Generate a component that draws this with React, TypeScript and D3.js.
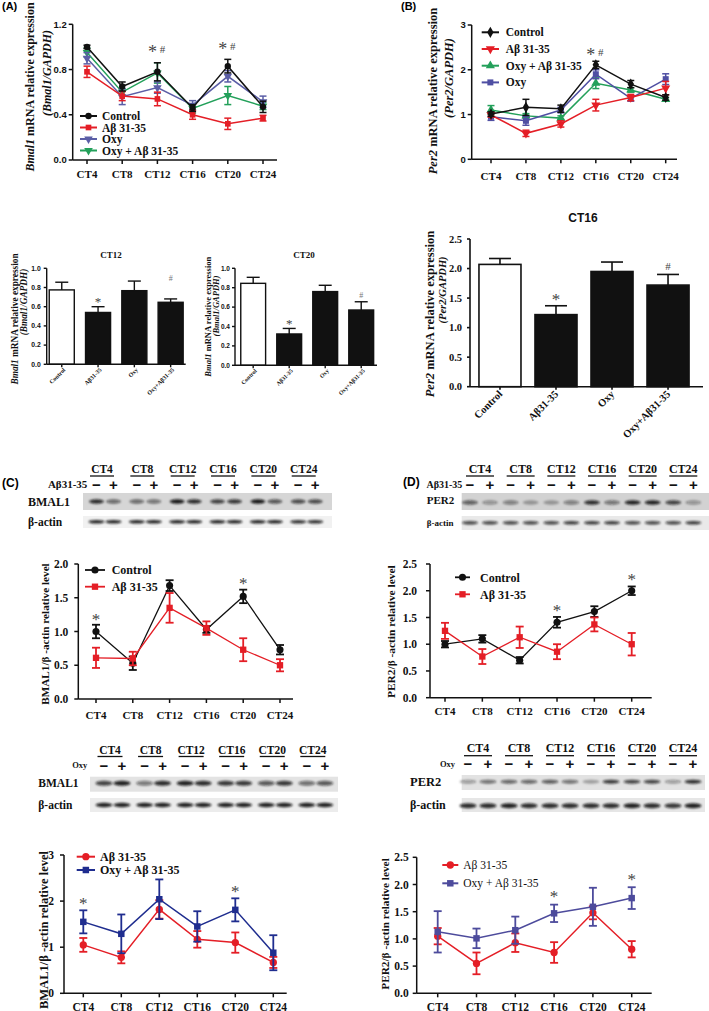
import React from "react";
import * as d3 from "d3";

const SERIF = "'Liberation Serif','Times New Roman',serif";
const SANS = "'Liberation Sans',Arial,sans-serif";

const BLACK = "#111111";
const RED = "#e41e26";
const PURPLE_A = "#5b5ea6";
const GREEN = "#23a05a";
const PURPLE_B = "#4f4fa3";
const NAVY = "#1f2d8f";
const SLATE = "#4d4b9c";

const CT = ["CT4", "CT8", "CT12", "CT16", "CT20", "CT24"];
const GROUPS = ["Control", "Aβ31-35", "Oxy", "Oxy+Aβ31-35"];

// (A) Bmal1 mRNA
const aControl = [1.0, 0.65, 0.78, 0.46, 0.83, 0.47];
const aControlErr = [0.015, 0.04, 0.08, 0.03, 0.06, 0.05];
const aAbeta = [0.78, 0.565, 0.54, 0.4, 0.32, 0.37];
const aAbetaErr = [0.05, 0.04, 0.06, 0.04, 0.05, 0.025];
const aOxy = [0.9, 0.56, 0.64, 0.485, 0.74, 0.515];
const aOxyErr = [0.05, 0.07, 0.05, 0.04, 0.05, 0.05];
const aOxyAbeta = [0.95, 0.6, 0.77, 0.456, 0.57, 0.476];
const aOxyAbetaErr = [0.04, 0.03, 0.09, 0.04, 0.08, 0.03];
const aYTicks = [0, 0.4, 0.8, 1.2];

// (B) Per2 mRNA
const bControl = [1.01, 1.16, 1.13, 2.11, 1.68, 1.38];
const bControlErr = [0.05, 0.18, 0.08, 0.08, 0.08, 0.06];
const bAbeta = [0.99, 0.58, 0.79, 1.21, 1.38, 1.59];
const bAbetaErr = [0.05, 0.07, 0.07, 0.13, 0.07, 0.15];
const bOxyAbeta = [1.1, 0.97, 0.92, 1.7, 1.55, 1.34];
const bOxyAbetaErr = [0.1, 0.05, 0.05, 0.12, 0.05, 0.04];
const bOxy = [0.95, 0.86, 1.1, 1.9, 1.36, 1.79];
const bOxyErr = [0.08, 0.1, 0.06, 0.1, 0.06, 0.12];
const bYTicks = [0, 1, 2, 3];

// Bar charts
const ct12Bars = [0.775, 0.54, 0.767, 0.646];
const ct12Err = [0.08, 0.06, 0.1, 0.035];
const ct20Bars = [0.845, 0.323, 0.76, 0.57];
const ct20Err = [0.062, 0.057, 0.065, 0.085];
const ct16Bars = [2.07, 1.22, 1.95, 1.72];
const ct16Err = [0.1, 0.15, 0.16, 0.18];
const barTicks1 = [0, 0.2, 0.4, 0.6, 0.8, 1.0];
const barTicks25 = [0, 0.5, 1.0, 1.5, 2.0, 2.5];

// (C) BMAL1 protein
const cControl = [1.0, 0.53, 1.68, 1.03, 1.52, 0.73];
const cControlErr = [0.1, 0.1, 0.08, 0.05, 0.1, 0.07];
const cAbeta = [0.61, 0.6, 1.35, 1.05, 0.73, 0.5];
const cAbetaErr = [0.15, 0.1, 0.22, 0.1, 0.17, 0.09];
const cYTicks = [0, 0.5, 1.0, 1.5, 2.0];

// (D) PER2 protein
const dControl = [1.0, 1.1, 0.7, 1.41, 1.61, 2.0];
const dControlErr = [0.06, 0.07, 0.06, 0.1, 0.1, 0.08];
const dAbeta = [1.25, 0.77, 1.13, 0.86, 1.37, 1.0];
const dAbetaErr = [0.15, 0.14, 0.2, 0.14, 0.13, 0.21];
const dYTicks = [0, 0.5, 1.0, 1.5, 2.0, 2.5];

// (C) lower: Aβ vs Oxy+Aβ
const c2Abeta = [1.05, 0.78, 1.82, 1.17, 1.1, 0.67];
const c2AbetaErr = [0.15, 0.13, 0.2, 0.18, 0.22, 0.12];
const c2OxyAbeta = [1.55, 1.29, 2.04, 1.45, 1.81, 0.88];
const c2OxyAbetaErr = [0.25, 0.42, 0.43, 0.33, 0.25, 0.38];
const c2YTicks = [0, 1, 2, 3];

// (D) lower
const d2Abeta = [1.05, 0.55, 0.93, 0.75, 1.48, 0.81];
const d2AbetaErr = [0.15, 0.2, 0.17, 0.19, 0.12, 0.15];
const d2OxyAbeta = [1.13, 1.01, 1.16, 1.47, 1.59, 1.75];
const d2OxyAbetaErr = [0.38, 0.18, 0.25, 0.16, 0.35, 0.2];
const d2YTicks = [0, 0.5, 1.0, 1.5, 2.0, 2.5];

// Western blot band intensities (lanes: CT4 -,+, CT8 -,+ ...)
const blotC1Bmal = [0.85, 0.55, 0.55, 0.5, 0.95, 0.85, 0.75, 0.8, 0.95, 0.65, 0.7, 0.7];
const blotC1Actin = [0.9, 0.9, 0.9, 0.9, 0.9, 0.9, 0.9, 0.9, 0.9, 0.9, 0.85, 0.85];
const blotD1Per = [0.6, 0.35, 0.45, 0.3, 0.3, 0.45, 0.85, 0.5, 0.9, 0.9, 0.75, 0.35];
const blotD1Actin = [0.75, 0.75, 0.75, 0.75, 0.75, 0.8, 0.8, 0.8, 0.75, 0.75, 0.75, 0.8];
const blotC2Bmal = [0.75, 0.9, 0.5, 0.85, 0.9, 0.85, 0.8, 0.8, 0.65, 0.8, 0.55, 0.65];
const blotC2Actin = [0.9, 0.9, 0.9, 0.9, 0.9, 0.9, 0.9, 0.9, 0.9, 0.9, 0.9, 0.9];
const blotD2Per = [0.35, 0.55, 0.6, 0.6, 0.65, 0.55, 0.3, 0.8, 0.75, 0.75, 0.35, 0.85];
const blotD2Actin = [0.85, 0.85, 0.9, 0.85, 0.85, 0.85, 0.85, 0.85, 0.9, 0.85, 0.8, 0.9];

type Sym = "circle" | "square" | "triDown" | "triUp" | "diamond";

function symPath(sym: Sym, size: number) {
  const t =
    sym === "circle" ? d3.symbolCircle :
    sym === "square" ? d3.symbolSquare :
    sym === "diamond" ? d3.symbolDiamond : d3.symbolTriangle;
  return d3.symbol().type(t).size(size)() as string;
}

function Marker({ sym, x, y, size, color }: any) {
  const rot = sym === "triDown" ? 180 : 0;
  return <path d={symPath(sym, size)} transform={`translate(${x},${y}) rotate(${rot})`} fill={color} />;
}

function Mark({ x, cy, text, starSize, hashSize, gap = 5, color = "#444" }: any) {
  const items: any[] = [];
  if (text === "*#") {
    items.push({ ch: "*", x: x - gap, s: starSize });
    items.push({ ch: "#", x: x + gap, s: hashSize });
  } else if (text === "*") items.push({ ch: "*", x, s: starSize });
  else items.push({ ch: "#", x, s: hashSize });
  return (
    <g>
      {items.map((it, i) => (
        <text key={i} x={it.x} y={cy + (it.ch === "*" ? 0.46 : 0.34) * it.s} textAnchor="middle"
          fontSize={it.s} fontFamily={SERIF} fill={color}>{it.ch}</text>
      ))}
    </g>
  );
}

function RotText({ x, cy, size, children, weight = "bold" }: any) {
  return (
    <text transform={`translate(${x},${cy}) rotate(-90)`} textAnchor="middle" dy="0.33em"
      fontSize={size} fontWeight={weight} fontFamily={SERIF} fill="#111">{children}</text>
  );
}

function LineChart(p: any) {
  const x = d3.scalePoint<string>().domain(CT).range([p.firstX, p.lastX]);
  const y = d3.scaleLinear().domain([0, p.yMax]).range([p.zeroY, p.topY]);
  const fmt = d3.format(p.fmt);
  const line = d3.line<number>().x((_, i) => x(CT[i]) as number).y((d) => y(d));
  const order = p.drawOrder ? p.drawOrder.map((i: number) => p.series[i]) : p.series;
  const aw = p.axisW ?? 1.5;
  return (
    <g>
      <line x1={p.axisX} x2={p.axisX} y1={p.topY} y2={p.zeroY} stroke="#111" strokeWidth={aw} />
      <line x1={p.axisX} x2={p.axisEndX} y1={p.zeroY} y2={p.zeroY} stroke="#111" strokeWidth={aw} />
      {p.yTicks.map((t: number) => (
        <g key={t}>
          <line x1={p.axisX - 4} x2={p.axisX} y1={y(t)} y2={y(t)} stroke="#111" strokeWidth={aw} />
          <text x={p.axisX - p.gap} y={y(t)} dy="0.35em" textAnchor="end" fontSize={p.yTickSize}
            fontWeight="bold" fontFamily={p.yTickFont} fill="#111">{fmt(t)}</text>
        </g>
      ))}
      {CT.map((c) => (
        <g key={c}>
          <line x1={x(c)} x2={x(c)} y1={p.zeroY} y2={p.zeroY + 4} stroke="#111" strokeWidth={aw} />
          <text x={x(c)} y={p.ctBase} textAnchor="middle" fontSize={p.ctSize} fontWeight="bold"
            fontFamily={SERIF} fill="#111">{c}</text>
        </g>
      ))}
      {order.map((s: any, si: number) => (
        <g key={si}>
          <path d={line(s.values) as string} fill="none" stroke={s.color} strokeWidth={p.lineW} />
          {s.values.map((v: number, i: number) => {
            const cx = x(CT[i]) as number;
            const e = s.errs[i];
            const cw = p.capW / 2;
            return (
              <g key={i} stroke={s.color} strokeWidth={p.errW}>
                <line x1={cx} x2={cx} y1={y(v - e)} y2={y(v + e)} />
                <line x1={cx - cw} x2={cx + cw} y1={y(v + e)} y2={y(v + e)} />
                <line x1={cx - cw} x2={cx + cw} y1={y(v - e)} y2={y(v - e)} />
              </g>
            );
          })}
          {s.values.map((v: number, i: number) => (
            <Marker key={"m" + i} sym={s.sym} x={x(CT[i])} y={y(v)} size={p.markerSize} color={s.color} />
          ))}
        </g>
      ))}
      {p.marks.map((m: any, i: number) => {
        const idx = CT.indexOf(m.ct);
        const top = d3.max(p.series, (s: any) => s.values[idx] + s.errs[idx]) as number;
        return (
          <Mark key={i} x={x(m.ct)} cy={y(top) - p.markOff} text={m.text} starSize={p.starSize}
            hashSize={p.hashSize} gap={p.markGap} />
        );
      })}
      {p.series.map((s: any, i: number) => {
        const L = p.legend;
        const cy = L.y0 + i * L.dy;
        return (
          <g key={"lg" + i}>
            <line x1={L.x0} x2={L.x1} y1={cy} y2={cy} stroke={s.color} strokeWidth={p.lineW + 0.5} />
            <Marker sym={s.sym} x={(L.x0 + L.x1) / 2} y={cy} size={p.markerSize} color={s.color} />
            <text x={L.tx} y={cy} dy="0.35em" fontSize={L.size} fontWeight={L.weight}
              fontFamily={SERIF} fill="#111">{s.label}</text>
          </g>
        );
      })}
    </g>
  );
}

function BarChart(p: any) {
  const x = d3.scaleBand<string>().domain(GROUPS).range([p.r0, p.r1])
    .paddingInner(p.pi).paddingOuter(p.po);
  const y = d3.scaleLinear().domain([0, p.yMax]).range([p.zeroY, p.topY]);
  const fmt = d3.format(p.fmt);
  const bw = x.bandwidth();
  const aw = p.axisW;
  return (
    <g>
      {GROUPS.map((g, i) => {
        const x0 = x(g) as number;
        const v = p.values[i];
        const e = p.errs[i];
        const cx = x0 + bw / 2;
        return (
          <g key={g}>
            <line x1={cx} x2={cx} y1={y(v)} y2={y(v + e)} stroke="#111" strokeWidth={aw} />
            <line x1={cx - p.capW / 2} x2={cx + p.capW / 2} y1={y(v + e)} y2={y(v + e)} stroke="#111" strokeWidth={aw} />
            <rect x={x0} y={y(v)} width={bw} height={p.zeroY - y(v)} fill={i === 0 ? "#fff" : "#111"}
              stroke="#111" strokeWidth={aw} />
            <line x1={cx} x2={cx} y1={p.zeroY} y2={p.zeroY + 3} stroke="#111" strokeWidth={aw} />
            <text transform={`translate(${cx + p.lblDx},${p.zeroY + p.lblDy}) rotate(-45)`} textAnchor="end"
              fontSize={p.lblSize} fontWeight="bold" fontFamily={SERIF} fill="#111">{g}</text>
          </g>
        );
      })}
      <line x1={p.axisX} x2={p.axisX} y1={p.topY} y2={p.zeroY} stroke="#111" strokeWidth={aw} />
      <line x1={p.axisX} x2={p.axisEndX} y1={p.zeroY} y2={p.zeroY} stroke="#111" strokeWidth={aw} />
      {p.yTicks.map((t: number) => (
        <g key={t}>
          <line x1={p.axisX - 3} x2={p.axisX} y1={y(t)} y2={y(t)} stroke="#111" strokeWidth={aw} />
          <text x={p.axisX - p.gap} y={y(t)} dy="0.35em" textAnchor="end" fontSize={p.tickSize}
            fontWeight="bold" fontFamily={p.tickFont} fill="#111">{fmt(t)}</text>
        </g>
      ))}
      <text x={p.titleX} y={p.titleY} textAnchor="middle" fontSize={p.titleSize} fontWeight="bold"
        fontFamily={p.titleFont} fill="#111">{p.title}</text>
      {p.marks.map((m: any, i: number) => {
        const g = GROUPS[m.idx];
        const cx = (x(g) as number) + bw / 2;
        const top = p.values[m.idx] + p.errs[m.idx];
        return (
          <Mark key={i} x={cx} cy={y(top) - m.off} text={m.text} starSize={p.starSize}
            hashSize={p.hashSize} color={m.color ?? "#444"} />
        );
      })}
    </g>
  );
}

function Blot(p: any) {
  const g = d3.scalePoint<string>().domain(CT).range([p.first, p.last]);
  const lanes: number[] = [];
  CT.forEach((c) => {
    lanes.push((g(c) as number) - p.off);
    lanes.push((g(c) as number) + p.off);
  });
  return (
    <g>
      {CT.map((c) => (
        <g key={c}>
          <text x={(g(c) as number) + p.ctDx} y={p.ctY} textAnchor="middle" fontSize={p.ctSize}
            fontWeight="bold" fontFamily={SERIF} fill="#111">{c}</text>
          <line x1={(g(c) as number) + p.ctDx - p.ulW / 2} x2={(g(c) as number) + p.ctDx + p.ulW / 2}
            y1={p.ulY} y2={p.ulY} stroke="#111" strokeWidth={1.3} />
        </g>
      ))}
      {lanes.map((lx, i) => (
        <text key={i} x={lx} y={p.pmY} dy="0.35em" textAnchor="middle" fontSize={p.pmSize}
          fontWeight="bold" fontFamily={SANS} fill="#111">{i % 2 === 0 ? "−" : "+"}</text>
      ))}
      <text x={p.treatX} y={p.treatY} textAnchor="end" fontSize={p.treatSize} fontWeight="bold"
        fontFamily={SERIF} fill="#111">{p.treat}</text>
      {p.rows.map((r: any, ri: number) => (
        <g key={ri}>
          <text x={r.labelX} y={r.labelY} fontSize={r.labelSize} fontWeight="bold" fontFamily={SERIF}
            fill="#111">{r.label}</text>
          <rect x={r.x0} y={r.y} width={r.x1 - r.x0} height={r.h} fill={r.bg} />
          <g filter="url(#blur)">
            {lanes.map((lx, i) => (
              <ellipse key={i} cx={lx} cy={r.cy} rx={r.bw / 2} ry={r.bh / 2} fill="#111"
                opacity={r.vals[i]} />
            ))}
          </g>
        </g>
      ))}
    </g>
  );
}

const seriesA = [
  { label: "Control", values: aControl, errs: aControlErr, color: BLACK, sym: "circle" },
  { label: "Aβ 31-35", values: aAbeta, errs: aAbetaErr, color: RED, sym: "square" },
  { label: "Oxy", values: aOxy, errs: aOxyErr, color: PURPLE_A, sym: "triDown" },
  { label: "Oxy + Aβ 31-35", values: aOxyAbeta, errs: aOxyAbetaErr, color: GREEN, sym: "triDown" },
];
const seriesB = [
  { label: "Control", values: bControl, errs: bControlErr, color: BLACK, sym: "diamond" },
  { label: "Aβ 31-35", values: bAbeta, errs: bAbetaErr, color: RED, sym: "triDown" },
  { label: "Oxy + Aβ 31-35", values: bOxyAbeta, errs: bOxyAbetaErr, color: GREEN, sym: "triUp" },
  { label: "Oxy", values: bOxy, errs: bOxyErr, color: PURPLE_B, sym: "square" },
];
const seriesC = [
  { label: "Control", values: cControl, errs: cControlErr, color: BLACK, sym: "circle" },
  { label: "Aβ 31-35", values: cAbeta, errs: cAbetaErr, color: RED, sym: "square" },
];
const seriesD = [
  { label: "Control", values: dControl, errs: dControlErr, color: BLACK, sym: "circle" },
  { label: "Aβ 31-35", values: dAbeta, errs: dAbetaErr, color: RED, sym: "square" },
];
const seriesC2 = [
  { label: "Aβ 31-35", values: c2Abeta, errs: c2AbetaErr, color: RED, sym: "circle" },
  { label: "Oxy + Aβ 31-35", values: c2OxyAbeta, errs: c2OxyAbetaErr, color: NAVY, sym: "square" },
];
const seriesD2 = [
  { label: "Aβ 31-35", values: d2Abeta, errs: d2AbetaErr, color: RED, sym: "circle" },
  { label: "Oxy + Aβ 31-35", values: d2OxyAbeta, errs: d2OxyAbetaErr, color: SLATE, sym: "square" },
];

export default function App() {
  return (
    <svg width={709} height={1011} viewBox="0 0 709 1011"
      style={{ position: "absolute", left: 0, top: 0, background: "#fff" }}>
      <defs>
        <filter id="blur" x="-20%" y="-100%" width="140%" height="300%">
          <feGaussianBlur stdDeviation="0.9" />
        </filter>
      </defs>
      <rect width={709} height={1011} fill="#fff" />

      {/* Panel letters */}
      <text x={2} y={10} fontSize={11} fontWeight="bold" fontFamily={SANS}>(A)</text>
      <text x={401} y={10} fontSize={11} fontWeight="bold" fontFamily={SANS}>(B)</text>
      <text x={2} y={487} fontSize={12} fontWeight="bold" fontFamily={SANS}>(C)</text>
      <text x={403} y={486} fontSize={12} fontWeight="bold" fontFamily={SANS}>(D)</text>

      {/* (A) time course */}
      <LineChart axisX={72.7} axisEndX={277} firstX={87} lastX={263} zeroY={160} topY={24.3} yMax={1.2}
        yTicks={aYTicks} fmt=".1f" yTickFont={SANS} yTickSize={9.5} gap={6} ctSize={11} ctBase={178}
        series={seriesA} drawOrder={[3, 2, 1, 0]} lineW={1.5} errW={1.5} capW={7} markerSize={32}
        marks={[{ ct: "CT12", text: "*#" }, { ct: "CT20", text: "*#" }]} markOff={13} starSize={18}
        hashSize={11} markGap={5}
        legend={{ x0: 80, x1: 97, tx: 102, y0: 116, dy: 11.5, size: 11.5, weight: "bold" }} />
      <RotText x={30} cy={87} size={12}><tspan fontStyle="italic">Bmal1</tspan> mRNA relative expression</RotText>
      <RotText x={47} cy={73} size={12}><tspan fontStyle="italic">(Bmal1/GAPDH)</tspan></RotText>

      {/* (B) time course */}
      <LineChart axisX={471.7} axisEndX={677} firstX={491} lastX={665.7} zeroY={159.3} topY={25} yMax={3}
        yTicks={bYTicks} fmt="d" yTickFont={SANS} yTickSize={9.5} gap={6} ctSize={11} ctBase={180}
        series={seriesB} drawOrder={[2, 3, 1, 0]} lineW={1.5} errW={1.5} capW={7} markerSize={36}
        marks={[{ ct: "CT16", text: "*#" }]} markOff={9} starSize={18} hashSize={11} markGap={5}
        legend={{ x0: 481.7, x1: 499, tx: 505.7, y0: 32.3, dy: 16.7, size: 11.5, weight: "bold" }} />
      <RotText x={433} cy={91} size={12.5}><tspan fontStyle="italic">Per2</tspan> mRNA relative expression</RotText>
      <RotText x={449} cy={78} size={12.5}><tspan fontStyle="italic">(Per2/GAPDH)</tspan></RotText>

      {/* CT12 bars */}
      <BarChart axisX={46.7} axisEndX={185.7} r0={46.7} r1={185.7} pi={0.31} po={0.07} zeroY={364.3} topY={268.3}
        yMax={1} yTicks={barTicks1} fmt=".1f" tickFont={SANS} tickSize={6.8} gap={6} axisW={1.4}
        values={ct12Bars} errs={ct12Err} capW={13} lblSize={6} lblDx={4} lblDy={6}
        title="CT12" titleX={111} titleY={258} titleSize={9} titleFont={SERIF}
        marks={[{ idx: 1, text: "*", off: 6.7 }, { idx: 3, text: "#", off: 21, color: "#777" }]}
        starSize={13} hashSize={8} />
      <RotText x={15} cy={319} size={9.3}><tspan fontStyle="italic">Bmal1</tspan> mRNA relative expression</RotText>
      <RotText x={23.5} cy={302} size={9.3}><tspan fontStyle="italic">(Bmal1/GAPDH)</tspan></RotText>

      {/* CT20 bars */}
      <BarChart axisX={235} axisEndX={377} r0={235} r1={379.4} pi={0.31} po={0.16} zeroY={365.3} topY={268.3}
        yMax={1} yTicks={barTicks1} fmt=".1f" tickFont={SANS} tickSize={6.5} gap={5} axisW={1.4}
        values={ct20Bars} errs={ct20Err} capW={13} lblSize={5.8} lblDx={4} lblDy={6}
        title="CT20" titleX={304} titleY={258} titleSize={9} titleFont={SERIF}
        marks={[{ idx: 1, text: "*", off: 6.7 }, { idx: 3, text: "#", off: 6, color: "#777" }]}
        starSize={13} hashSize={8} />
      <RotText x={208} cy={316.7} size={8.5}><tspan fontStyle="italic">Bmal1</tspan> mRNA relative expression</RotText>
      <RotText x={216} cy={306} size={8.5}><tspan fontStyle="italic">(Bmal1/GAPDH)</tspan></RotText>

      {/* CT16 bars */}
      <BarChart axisX={470} axisEndX={703} r0={470} r1={698} pi={0.25} po={0.16} zeroY={386.7} topY={239}
        yMax={2.5} yTicks={barTicks25} fmt=".1f" tickFont={SERIF} tickSize={10.5} gap={8} axisW={1.6}
        values={ct16Bars} errs={ct16Err} capW={22} lblSize={10.5} lblDx={3} lblDy={8}
        title="CT16" titleX={583} titleY={222} titleSize={12} titleFont={SANS}
        marks={[{ idx: 1, text: "*", off: 9 }, { idx: 3, text: "#", off: 8 }]}
        starSize={17} hashSize={11} />
      <RotText x={429.5} cy={314} size={12.5}><tspan fontStyle="italic">Per2</tspan> mRNA relative expression</RotText>
      <RotText x={443} cy={290} size={10.5}><tspan fontStyle="italic">(Per2/GAPDH)</tspan></RotText>

      {/* (C) upper blot */}
      <Blot first={105} last={306.7} off={8.5} ctDx={-3} ctY={473.3} ctSize={11.5} ulY={476} ulW={24}
        pmY={484.3} pmSize={15} treat="Aβ31-35" treatX={87.3} treatY={488} treatSize={11}
        rows={[
          { label: "BMAL1", labelX: 28, labelY: 505.5, labelSize: 12, x0: 83, x1: 332, y: 493, h: 17,
            bg: "#d6d6d6", cy: 501.5, bw: 15, bh: 4.5, vals: blotC1Bmal },
          { label: "β-actin", labelX: 28, labelY: 525.5, labelSize: 11.5, x0: 83, x1: 332, y: 516, h: 12,
            bg: "#f1f1f1", cy: 521.7, bw: 16, bh: 3.5, vals: blotC1Actin },
        ]} />

      {/* (C) upper line */}
      <LineChart axisX={78.3} axisEndX={293} firstX={96} lastX={280} zeroY={699} topY={564} yMax={2}
        yTicks={cYTicks} fmt=".1f" yTickFont={SERIF} yTickSize={11.5} gap={10} ctSize={11} ctBase={719}
        series={seriesC} lineW={1.3} errW={1.8} capW={8} markerSize={40}
        marks={[{ ct: "CT4", text: "*" }, { ct: "CT20", text: "*" }]} markOff={8} starSize={17}
        hashSize={11} markGap={5}
        legend={{ x0: 85, x1: 105, tx: 111.7, y0: 570, dy: 16.7, size: 12, weight: "bold" }} />
      <RotText x={45} cy={634} size={11.2}>BMAL1/β -actin relative level</RotText>

      {/* (D) upper blot */}
      <Blot first={480} last={683.3} off={10} ctDx={0} ctY={473.3} ctSize={12} ulY={476} ulW={28}
        pmY={484.3} pmSize={15} treat="Aβ31-35" treatX={462.3} treatY={488} treatSize={10}
        rows={[
          { label: "PER2", labelX: 426.7, labelY: 503.5, labelSize: 11, x0: 461.7, x1: 709, y: 493, h: 17,
            bg: "#d2d2d2", cy: 502.5, bw: 16, bh: 4.5, vals: blotD1Per },
          { label: "β-actin", labelX: 426.7, labelY: 526, labelSize: 9, x0: 461.7, x1: 709, y: 516, h: 14,
            bg: "#e9e9e9", cy: 522.7, bw: 16, bh: 3.5, vals: blotD1Actin },
        ]} />

      {/* (D) upper line */}
      <LineChart axisX={430} axisEndX={651.7} firstX={445} lastX={631.7} zeroY={697.7} topY={564} yMax={2.5}
        yTicks={dYTicks} fmt=".1f" yTickFont={SERIF} yTickSize={11.5} gap={13} ctSize={11} ctBase={715}
        series={seriesD} lineW={1.3} errW={1.8} capW={8} markerSize={40}
        marks={[{ ct: "CT16", text: "*" }, { ct: "CT24", text: "*" }]} markOff={9} starSize={17}
        hashSize={11} markGap={5}
        legend={{ x0: 455, x1: 470, tx: 480, y0: 577.3, dy: 17, size: 12, weight: "bold" }} />
      <RotText x={391.7} cy={631.7} size={11.4}>PER2/β -actin relative level</RotText>

      {/* (C) lower blot */}
      <Blot first={113} last={315.8} off={9} ctDx={-3} ctY={754} ctSize={11.5} ulY={756.5} ulW={25}
        pmY={765.7} pmSize={15} treat="Oxy" treatX={87.3} treatY={768} treatSize={8.5}
        rows={[
          { label: "BMAL1", labelX: 38.3, labelY: 787, labelSize: 11.5, x0: 90, x1: 338, y: 776.7, h: 15,
            bg: "#e3e3e3", cy: 783.3, bw: 17, bh: 5, vals: blotC2Bmal },
          { label: "β-actin", labelX: 38.3, labelY: 809, labelSize: 11.5, x0: 90, x1: 338, y: 798, h: 14,
            bg: "#ececec", cy: 805, bw: 17, bh: 4.5, vals: blotC2Actin },
        ]} />

      {/* (C) lower line */}
      <LineChart axisX={64} axisEndX={286.7} firstX={83.3} lastX={273.3} zeroY={993.3} topY={855} yMax={3}
        yTicks={c2YTicks} fmt="d" yTickFont={SERIF} yTickSize={11.5} gap={10} ctSize={11.5} ctBase={1010.5}
        series={seriesC2} lineW={1.5} errW={1.8} capW={8} markerSize={42}
        marks={[{ ct: "CT4", text: "*" }, { ct: "CT20", text: "*" }]} markOff={9} starSize={17}
        hashSize={11} markGap={5}
        legend={{ x0: 76.7, x1: 95, tx: 100, y0: 856.7, dy: 13.3, size: 12, weight: "bold" }} />
      <RotText x={44} cy={930} size={12.5}>BMAL1/β -actin relative level</RotText>

      {/* (D) lower blot */}
      <Blot first={478} last={683} off={10} ctDx={0} ctY={752.3} ctSize={12} ulY={755.7} ulW={28}
        pmY={764} pmSize={15} treat="Oxy" treatX={455} treatY={766.5} treatSize={8.5}
        rows={[
          { label: "PER2", labelX: 410, labelY: 786, labelSize: 12.5, x0: 461.7, x1: 705, y: 775, h: 15,
            bg: "#e2e2e2", cy: 781.7, bw: 17, bh: 4, vals: blotD2Per },
          { label: "β-actin", labelX: 410, labelY: 809, labelSize: 12, x0: 461.7, x1: 705, y: 798, h: 14,
            bg: "#e6e6e6", cy: 805.7, bw: 17, bh: 5, vals: blotD2Actin },
        ]} />

      {/* (D) lower line */}
      <LineChart axisX={416.7} axisEndX={651.7} firstX={437.7} lastX={631.7} zeroY={993.3} topY={857.3} yMax={2.5}
        yTicks={d2YTicks} fmt=".1f" yTickFont={SERIF} yTickSize={11.5} gap={8} ctSize={11.5} ctBase={1010.5}
        series={seriesD2} lineW={1.5} errW={1.8} capW={8} markerSize={42}
        marks={[{ ct: "CT16", text: "*" }, { ct: "CT24", text: "*" }]} markOff={10} starSize={17}
        hashSize={11} markGap={5}
        legend={{ x0: 442.3, x1: 458.3, tx: 463.3, y0: 865, dy: 18.3, size: 11.5, weight: "normal" }} />
      <RotText x={385} cy={924} size={11.3}>PER2/β -actin relative level</RotText>
    </svg>
  );
}
